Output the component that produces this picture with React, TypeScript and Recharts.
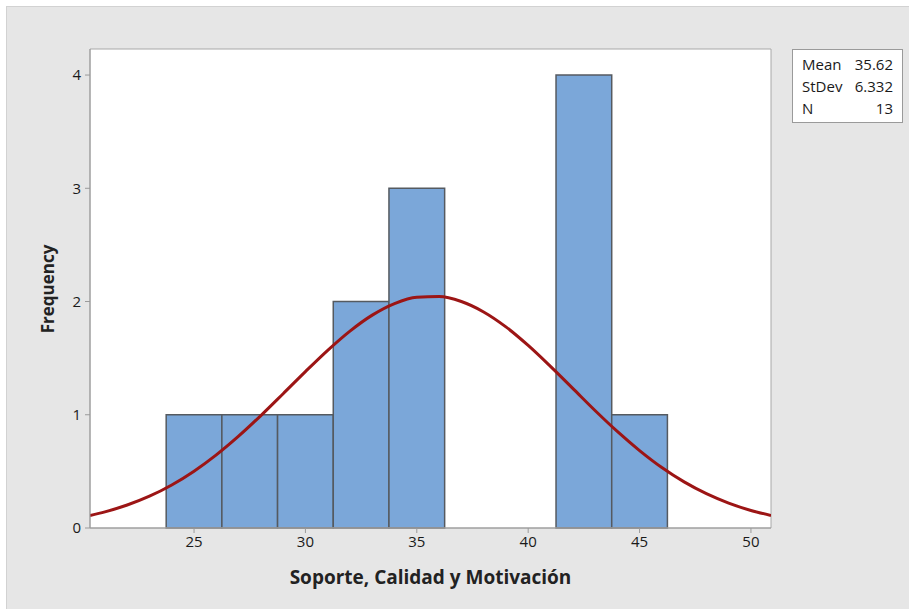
import React from 'react';
import { ComposedChart, Line, XAxis, YAxis, CartesianGrid, ReferenceArea } from 'recharts';

// histogram bins (bin edges) and counts
const binStarts = [23.75, 26.25, 28.75, 31.25, 33.75, 36.25, 38.75, 41.25, 43.75];
const binEnds = [26.25, 28.75, 31.25, 33.75, 36.25, 38.75, 41.25, 43.75, 46.25];
const counts = [1, 1, 1, 2, 3, 0, 0, 4, 1];

// fitted normal curve
const curveX = [20.33, 21, 22, 23, 24, 25, 26, 27, 28, 29, 30, 31, 32, 33, 34, 35, 36, 37, 38, 39, 40, 41, 42, 43, 44, 45, 46, 47, 48, 49, 50, 50.9];
const curveY = [0.11, 0.142, 0.203, 0.281, 0.38, 0.502, 0.646, 0.811, 0.993, 1.186, 1.381, 1.569, 1.739, 1.88, 1.982, 2.038, 2.044, 2.0, 1.908, 1.776, 1.612, 1.427, 1.233, 1.038, 0.853, 0.684, 0.534, 0.407, 0.303, 0.22, 0.155, 0.111];

const xTicks = [25, 30, 35, 40, 45, 50];
const yTicks = [0, 1, 2, 3, 4];
const xDomain = [20.33, 50.9];
const yDomain = [0, 4.23];

const stats = [
  ['Mean', '35.62'],
  ['StDev', '6.332'],
  ['N', '13'],
];

const curveData = curveX.map((x, i) => ({ x, y: curveY[i] }));

const FONT = '"Open Sans", "Noto Sans", sans-serif';
const tickStyle = { fill: '#1a1a1a', fontSize: 15, fontFamily: FONT };

export default function App() {
  return (
    <div style={{ position: 'absolute', left: 0, top: 0, width: 909, height: 609, background: '#fff', overflow: 'hidden' }}>
      <div style={{ position: 'absolute', left: 6, top: 6, width: 903, height: 603, background: '#e6e6e6', borderTop: '1px solid #d2d2d2', borderLeft: '1px solid #d2d2d2' }} />
      <div style={{ position: 'absolute', left: 0, top: 0 }}>
        <ComposedChart width={909} height={609} data={curveData} margin={{ top: 49, right: 138, bottom: 51, left: 30 }}>
          <CartesianGrid fill="#fff" horizontal={false} vertical={false} />
          <XAxis
            dataKey="x"
            type="number"
            domain={xDomain}
            allowDataOverflow
            ticks={xTicks}
            height={30}
            stroke="#9a9a9a"
            tickSize={5}
            tick={tickStyle}
            tickMargin={3}
            interval={0}
          />
          <YAxis
            type="number"
            domain={yDomain}
            allowDataOverflow
            ticks={yTicks}
            width={60}
            stroke="#9a9a9a"
            tickSize={5}
            tick={tickStyle}
            tickMargin={4}
            interval={0}
          />
          {counts.map((c, i) => (
            <ReferenceArea
              key={i}
              x1={binStarts[i]}
              x2={binEnds[i]}
              y1={0}
              y2={c}
              fill="#7ba7d9"
              fillOpacity={1}
              stroke={c > 0 ? '#555a60' : 'none'}
              strokeWidth={1.5}
            />
          ))}
          <ReferenceArea
            x1={xDomain[0]}
            x2={xDomain[1]}
            y1={yDomain[0]}
            y2={yDomain[1]}
            fill="none"
            stroke="#a8a8a8"
            strokeWidth={1}
          />
          <Line
            type="monotone"
            dataKey="y"
            stroke="#9c1515"
            strokeWidth={3}
            dot={false}
            activeDot={false}
            isAnimationActive={false}
          />
        </ComposedChart>
      </div>
      <div style={{ position: 'absolute', left: 30, top: 289, width: 0, height: 0 }}>
        <div style={{ position: 'absolute', left: 0, top: 0, transform: 'translate(-50%, -50%) rotate(-90deg)', whiteSpace: 'nowrap', fontFamily: FONT, fontWeight: 700, fontSize: 17, color: '#222', lineHeight: '20px', marginLeft: 18 }}>
          Frequency
        </div>
      </div>
      <div style={{ position: 'absolute', left: 90, width: 681, top: 564, textAlign: 'center', fontFamily: FONT, fontWeight: 700, fontSize: 19, color: '#222', lineHeight: '26px' }}>
        Soporte, Calidad y Motivación
      </div>
      <div style={{ position: 'absolute', left: 792, top: 49, width: 111, height: 74, background: '#fff', border: '1px solid #9a9a9a', fontFamily: FONT, fontWeight: 400, fontSize: 15, color: '#1a1a1a', padding: '3px 9px 0 9px', boxSizing: 'border-box' }}>
        {stats.map(([k, v]) => (
          <div key={k} style={{ display: 'flex', justifyContent: 'space-between', lineHeight: '22px' }}>
            <span>{k}</span>
            <span>{v}</span>
          </div>
        ))}
      </div>
    </div>
  );
}
